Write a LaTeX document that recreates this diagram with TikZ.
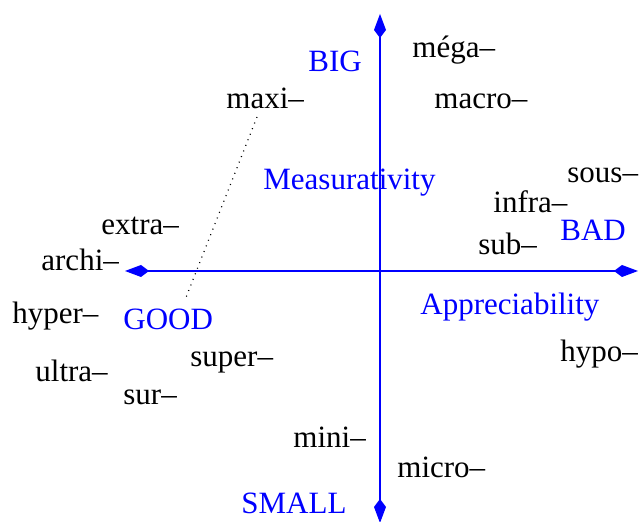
\documentclass[tikz,border=0pt]{standalone}
\usepackage{fontspec}
\setmainfont{Liberation Serif}
\usepackage{xcolor}
\usetikzlibrary{arrows.meta}
\definecolor{axisblue}{HTML}{0000FF}

\begin{document}
\begin{tikzpicture}[
  x=0.5pt,y=-0.5pt,
  font=\fontsize{15.5}{18}\selectfont,
  every node/.style={inner sep=0pt,anchor=base west,yshift=-1pt},
  affix/.style={text=black},
  pole/.style={text=axisblue},
  axis/.style={axisblue,line width=0.75pt,
    {Kite[length=12pt,width=6pt,inset=4pt]}-{Kite[length=12pt,width=6pt,inset=4pt]}},
  link/.style={black,line width=0.6pt,dash pattern=on 0.5pt off 2.5pt}
]
\useasboundingbox (0,0) rectangle (639,522);

% Axis ends
\coordinate (top)    at (380,12);
\coordinate (bottom) at (380,521);
\coordinate (left)   at (125,269);
\coordinate (right)  at (638,269);

% Axes
\draw[axis] (top) -- (bottom);
\draw[axis] (left) -- (right);

% Poles and axis names
\node[pole] (big)   at (308,70)  {BIG};
\node[pole] (small) at (241,512) {SMALL};
\node[pole] (good)  at (123,328) {GOOD};
\node[pole] (bad)   at (560,239) {BAD};
\node[pole] (meas)  at (263,188) {Measurativity};
\node[pole] (appr)  at (420,313) {Appreciability};

% Prefixes
\node[affix] (mega)  at (412,56)  {méga–};
\node[affix] (macro) at (434,107) {macro–};
\node[affix] (maxi)  at (226,107) {maxi–};
\node[affix] (sous)  at (567,181) {sous–};
\node[affix] (infra) at (493,211) {infra–};
\node[affix] (sub)   at (478,253) {sub–};
\node[affix] (extra) at (101,233) {extra–};
\node[affix] (archi) at (41,269)  {archi–};
\node[affix] (hyper) at (12,322)  {hyper–};
\node[affix] (super) at (190,365) {super–};
\node[affix] (ultra) at (35,380)  {ultra–};
\node[affix] (sur)   at (123,403) {sur–};
\node[affix] (hypo)  at (560,360) {hypo–};
\node[affix] (mini)  at (293,446) {mini–};
\node[affix] (micro) at (397,476) {micro–};

% Dotted link maxi -- good
\coordinate (linkA) at (257,115);
\coordinate (linkB) at (185,298);
\draw[link] (linkA) -- (linkB);
\end{tikzpicture}
\end{document}
